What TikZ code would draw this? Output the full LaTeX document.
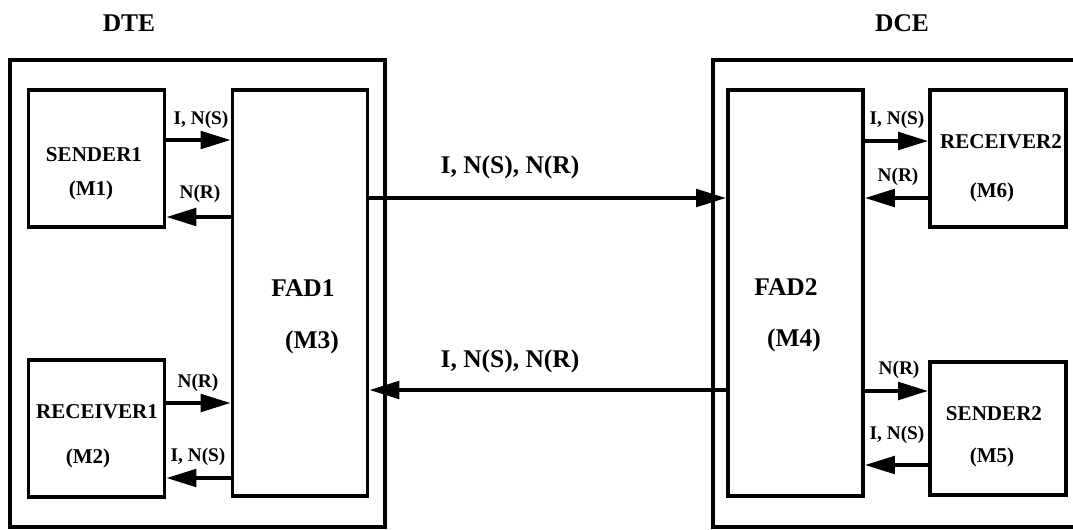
\documentclass[tikz,border=0pt]{standalone}
\usepackage{fontspec}
\setmainfont{Liberation Serif}
\usetikzlibrary{arrows.meta,calc,positioning}

\begin{document}
\begin{tikzpicture}[x=0.02cm,y=-0.02cm,>={Triangle[length=17pt,width=10pt]},
  frame/.style={line width=2pt},
  modbox/.style={draw,line width=2pt,inner sep=0pt,minimum width=2.73cm,minimum height=2.74cm},
  fadbox/.style={draw,line width=2pt,inner sep=0pt,minimum width=2.71cm,minimum height=8.12cm},
  flow/.style={->,line width=2pt},
  modname/.style={font=\fontsize{12pt}{14pt}\selectfont\bfseries,inner sep=0pt},
  fadname/.style={font=\fontsize{14.5pt}{17pt}\selectfont\bfseries,inner sep=0pt},
  siglab/.style={font=\fontsize{11pt}{13pt}\selectfont\bfseries,inner sep=0pt},
  linklab/.style={font=\fontsize{14.5pt}{17pt}\selectfont\bfseries,inner sep=0pt}]
  \useasboundingbox (0,0) rectangle (1073,529);
  % outer frames
  \draw[frame] (10,60) rectangle (385,527);
  \draw[frame] (1073,60) -- (713,60) -- (713,527) -- (1073,527);
  \node[fadname] (dte) at (129,23) {DTE};
  \node[fadname] (dce) at (902,23) {DCE};
  % modules
  \node[modbox] (s1) at (96.5,158.5) {};
  \node[modbox] (r1) at (96.5,428.5) {};
  \node[fadbox] (f1) at (300,293) {};
  \node[fadbox] (f2) at (795.5,293) {};
  \node[modbox] (r2) at (998,158.5) {};
  \node[modbox,minimum height=2.66cm] (s2) at (998,428.5) {};
  \node[modname] (s1a) at (94,155) {SENDER1};
  \node[modname] (s1b) at (91,190) {(M1)};
  \node[modname] (r1a) at (97,412) {RECEIVER1};
  \node[modname] (r1b) at (88,458) {(M2)};
  \node[fadname] (f1a) at (303,288) {FAD1};
  \node[fadname] (f1b) at (312,342) {(M3)};
  \node[fadname] (f2a) at (786,287) {FAD2};
  \node[fadname] (f2b) at (794,340) {(M4)};
  \node[modname] (s2a) at (994,414) {SENDER2};
  \node[modname] (s2b) at (992,457) {(M5)};
  % heights of the connectors
  \coordinate (ya) at (0,140);
  \coordinate (yb) at (0,217);
  \coordinate (yc) at (0,403);
  \coordinate (yd) at (0,478);
  \coordinate (ye) at (0,198);
  \coordinate (yf) at (0,390);
  \coordinate (yg) at (0,141);
  \coordinate (yh) at (0,198);
  \coordinate (yi) at (0,391);
  \coordinate (yj) at (0,465);
  \draw[flow] (s1.east |- ya) -- (f1.west |- ya);
  \draw[flow] (f1.west |- yb) -- (s1.east |- yb);
  \draw[flow] (r1.east |- yc) -- (f1.west |- yc);
  \draw[flow] (f1.west |- yd) -- (r1.east |- yd);
  \draw[flow] (f1.east |- ye) -- (f2.west |- ye);
  \draw[flow] (f2.west |- yf) -- (f1.east |- yf);
  \draw[flow] (f2.east |- yg) -- (r2.west |- yg);
  \draw[flow] (r2.west |- yh) -- (f2.east |- yh);
  \draw[flow] (f2.east |- yi) -- (s2.west |- yi);
  \draw[flow] (s2.west |- yj) -- (f2.east |- yj);
  \node[modname,fill=white,inner sep=1pt] (r2a) at (1001,142) {RECEIVER2};
  \node[modname] (r2b) at (992,192) {(M6)};
  % labels on the connectors
  \node[siglab] (la) at (201,120) {I, N(S)};
  \node[siglab] (lb) at (200,194) {N(R)};
  \node[siglab] (lc) at (198,383) {N(R)};
  \node[siglab] (ld) at (198,457) {I, N(S)};
  \node[siglab] (lg) at (897,120) {I, N(S)};
  \node[siglab] (lh) at (898,177) {N(R)};
  \node[siglab] (li) at (899,370) {N(R)};
  \node[siglab] (lj) at (897,435) {I, N(S)};
  \node[linklab] (le) at (510,167) {I, N(S), N(R)};
  \node[linklab] (lf) at (510,361) {I, N(S), N(R)};
\end{tikzpicture}
\end{document}
